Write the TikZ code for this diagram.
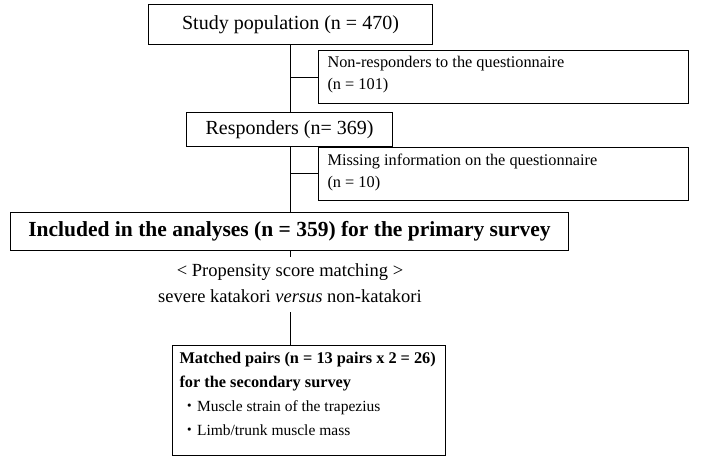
\documentclass[tikz,border=0pt]{standalone}
\usepackage{fontspec}
\setmainfont{Liberation Serif}
\newfontfamily\cjk{Noto Sans CJK JP}
\begin{document}
\begin{tikzpicture}[x=1pt,y=-1pt,
  bx/.style={draw,line width=1pt,inner sep=0pt},
  ln/.style={line width=1pt}]
\useasboundingbox (0,0) rectangle (702,464);
\node[bx,minimum width=284,minimum height=40,anchor=north west,font=\fontsize{20}{22}\selectfont] (a) at (148,4) {Study population (n = 470)};
\node[bx,minimum width=370,minimum height=53,anchor=north west] (b) at (318,50) {};
\node[anchor=north west,align=left,font=\fontsize{16.3}{22}\selectfont] (bt) at (324,53) {Non-responders to the questionnaire\\(n = 101)};
\node[bx,minimum width=206,minimum height=34,anchor=north west,font=\fontsize{20}{22}\selectfont] (c) at (186,112) {Responders (n= 369)};
\node[bx,minimum width=370,minimum height=53,anchor=north west] (d) at (318,147) {};
\node[anchor=north west,align=left,font=\fontsize{16.3}{22}\selectfont] (dt) at (324,150) {Missing information on the questionnaire\\(n = 10)};
\node[bx,minimum width=558,minimum height=38,anchor=north west,font=\fontsize{21.5}{22}\selectfont\bfseries] (e) at (10,212) {Included in the analyses (n = 359) for the primary survey};
\node[align=center,font=\fontsize{18.5}{26}\selectfont] (f) at (290,283) {< Propensity score matching >\\severe katakori \textit{versus} non-katakori};
\node[bx,minimum width=273,minimum height=110,anchor=north west] (g) at (172,345) {};
\node[anchor=north west,align=left,font=\fontsize{16.3}{24}\selectfont\bfseries] (gt) at (176,349) {Matched pairs (n = 13 pairs x 2 = 26)\\for the secondary survey};
\node[anchor=north west,align=left,font=\fontsize{15.5}{24}\selectfont] (gl) at (178,397) {{\cjk ・}Muscle strain of the trapezius\\{\cjk ・}Limb/trunk muscle mass};
\coordinate (j1) at (290,77);
\coordinate (j2) at (290,173);
\coordinate (f1) at (290,257);
\coordinate (f2) at (290,312);
\draw[ln] (a.south -| j1) -- (c.north -| j1);
\draw[ln] (j1) -- (b.west |- j1);
\draw[ln] (c.south -| j2) -- (e.north -| j2);
\draw[ln] (j2) -- (d.west |- j2);
\draw[ln] (e.south -| f1) -- (f1);
\draw[ln] (f2) -- (g.north -| f2);
\end{tikzpicture}
\end{document}
